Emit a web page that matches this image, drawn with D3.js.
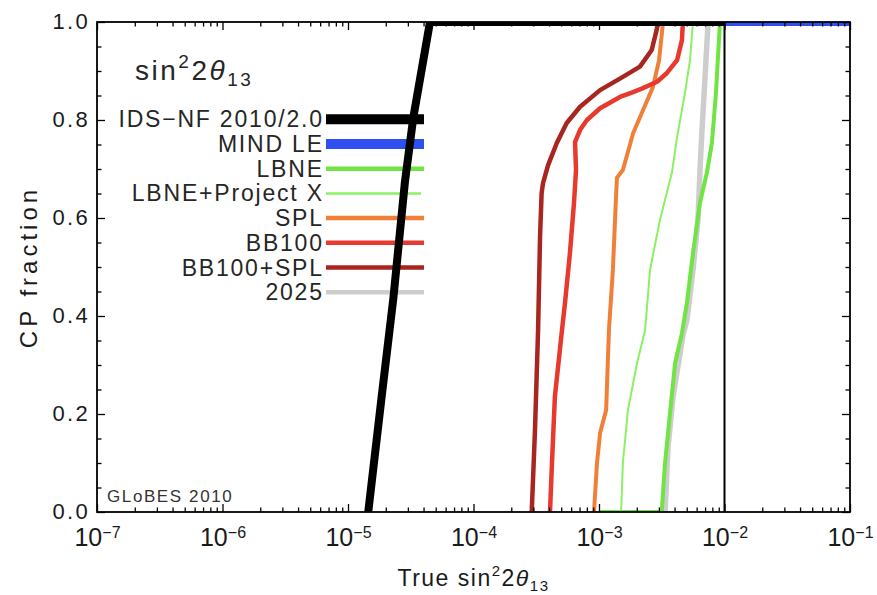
<!DOCTYPE html>
<html>
<head>
<meta charset="utf-8">
<script src="https://cdn.jsdelivr.net/npm/d3@7"></script>
<style>
  body { margin: 0; background: #fff; }
  svg { display: block; font-family: "Liberation Sans", Arial, Helvetica, sans-serif; }
</style>
</head>
<body>
<svg id="chart" width="877" height="595"></svg>
<script>
// CP fraction for which sin²2θ13 = 0 can be excluded, versus true sin²2θ13.
// Each series: [true sin²2θ13, CP fraction]
const seriesNames = ["IDS\u2212NF 2010/2.0", "MIND LE", "LBNE", "LBNE+Project X", "SPL", "BB100", "BB100+SPL", "2025"];

const idsNf = [[1.45e-5, 0], [1.85e-5, 0.233], [2.30e-5, 0.437], [2.84e-5, 0.673], [3.31e-5, 0.804], [4.50e-5, 1.0], [1e-2, 1.0]];
const mindLe = [[1e-2, 1.0], [1e-1, 1.0]];
const lbne = [[1e-3, 0], [3.16e-3, 0], [3.36e-3, 0.1], [3.68e-3, 0.202], [4.04e-3, 0.304], [4.58e-3, 0.365], [5.02e-3, 0.427],
  [5.61e-3, 0.529], [6.38e-3, 0.631], [7.26e-3, 0.694], [7.94e-3, 0.753], [8.55e-3, 0.855], [9.20e-3, 1.0]];
const lbneProjectX = [[1.50e-3, 0], [1.55e-3, 0.1], [1.70e-3, 0.208], [2.01e-3, 0.304], [2.33e-3, 0.371], [2.55e-3, 0.494],
  [3.06e-3, 0.596], [3.82e-3, 0.694], [4.19e-3, 0.765], [4.84e-3, 0.855], [5.31e-3, 0.922], [5.61e-3, 1.0]];
const spl = [[9.12e-4, 0], [9.64e-4, 0.1], [1.02e-3, 0.161], [1.14e-3, 0.208], [1.20e-3, 0.371], [1.29e-3, 0.494], [1.36e-3, 0.631],
  [1.39e-3, 0.682], [1.55e-3, 0.698], [1.87e-3, 0.773], [2.24e-3, 0.820], [2.69e-3, 0.867], [3.01e-3, 0.922], [3.24e-3, 1.0]];
const bb100 = [[4.07e-4, 0], [4.22e-4, 0.1], [4.45e-4, 0.235], [5.07e-4, 0.371], [5.36e-4, 0.427], [5.87e-4, 0.529], [6.32e-4, 0.631],
  [6.56e-4, 0.698], [6.44e-4, 0.755], [7.07e-4, 0.780], [8.02e-4, 0.8], [1.02e-3, 0.824], [1.47e-3, 0.847], [1.87e-3, 0.857],
  [2.24e-3, 0.865], [2.90e-3, 0.878], [3.48e-3, 0.896], [4.19e-3, 0.922], [4.58e-3, 0.963], [4.66e-3, 1.0]];
const bb100Spl = [[2.91e-4, 0], [3.09e-4, 0.167], [3.27e-4, 0.371], [3.39e-4, 0.561], [3.49e-4, 0.651], [3.58e-4, 0.671],
  [3.93e-4, 0.708], [4.61e-4, 0.753], [5.53e-4, 0.794], [7.07e-4, 0.827], [1.02e-3, 0.861], [1.55e-3, 0.888],
  [2.12e-3, 0.909], [2.63e-3, 0.943], [2.88e-3, 0.984], [2.95e-3, 1.0]];
const y2025 = [[3.36e-3, 0], [3.55e-3, 0.133], [3.89e-3, 0.235], [4.67e-3, 0.361], [5.02e-3, 0.392], [5.61e-3, 0.494],
  [6.15e-3, 0.596], [6.38e-3, 0.698], [6.62e-3, 0.780], [7.00e-3, 0.888], [7.40e-3, 1.0]];

const xTickExponents = [-7, -6, -5, -4, -3, -2, -1];
const yTickValues = [0, 0.2, 0.4, 0.6, 0.8, 1.0];
const yTickLabels = ["0.0", "0.2", "0.4", "0.6", "0.8", "1.0"];
const referenceLineX = 1e-2;

// ---- styling ----
const seriesData = {
  "IDS\u2212NF 2010/2.0": idsNf, "MIND LE": mindLe, "LBNE": lbne, "LBNE+Project X": lbneProjectX,
  "SPL": spl, "BB100": bb100, "BB100+SPL": bb100Spl, "2025": y2025
};
const style = {
  "IDS\u2212NF 2010/2.0": { color: "#000000", w: 8, lw: 10 },
  "MIND LE":              { color: "#2f50f0", w: 8, lw: 10 },
  "LBNE":                 { color: "#6fe443", w: 4, lw: 4.5 },
  "LBNE+Project X":       { color: "#8cf064", w: 2, lw: 2.5 },
  "SPL":                  { color: "#f08038", w: 4, lw: 4.5 },
  "BB100":                { color: "#e8392f", w: 4.5, lw: 4.5 },
  "BB100+SPL":            { color: "#a8261f", w: 4.5, lw: 4.5 },
  "2025":                 { color: "#cdcdcd", w: 5.5, lw: 4.5 }
};
const drawOrder = ["2025", "LBNE+Project X", "LBNE", "SPL", "BB100", "BB100+SPL", "IDS\u2212NF 2010/2.0", "MIND LE"];

const W = 877, H = 595;
const M = { top: 22, right: 27, bottom: 83, left: 97 };

const x = d3.scaleLog().domain([1e-7, 1e-1]).range([M.left, W - M.right]);
const y = d3.scaleLinear().domain([0, 1]).range([H - M.bottom, M.top]);

const svg = d3.select("#chart");
svg.append("rect").attr("width", W).attr("height", H).attr("fill", "#fff");

svg.append("defs").append("clipPath").attr("id", "plotClip")
  .append("rect")
  .attr("x", M.left).attr("y", M.top)
  .attr("width", W - M.left - M.right).attr("height", H - M.top - M.bottom);

// ---- legend (drawn beneath the curves) ----
const legSpacing = 1.8;
const legend = svg.append("g").attr("font-size", 23).attr("fill", "#262626");
const legTextX = 322, legLineX0 = 326, legLineX1 = 424, legY0 = 119.3, legStep = 24.7;
seriesNames.forEach((name, i) => {
  const yy = legY0 + i * legStep;
  legend.append("line")
    .attr("x1", legLineX0).attr("x2", name === "LBNE+Project X" ? legLineX1 - 3 : legLineX1)
    .attr("y1", yy).attr("y2", yy)
    .attr("stroke", style[name].color).attr("stroke-width", style[name].lw);
  legend.append("text")
    .attr("x", legTextX + legSpacing).attr("y", yy + 8)
    .attr("text-anchor", "end")
    .attr("letter-spacing", legSpacing)
    .text(name);
});

// ---- curves ----
const line = d3.line().x(d => x(d[0])).y(d => y(d[1]));
const plot = svg.append("g").attr("clip-path", "url(#plotClip)");
drawOrder.forEach(name => {
  plot.append("path")
    .datum(seriesData[name])
    .attr("d", line)
    .attr("fill", "none")
    .attr("stroke", style[name].color)
    .attr("stroke-width", style[name].w)
    .attr("stroke-linejoin", "round");
});

// vertical reference line
svg.append("line")
  .attr("x1", x(referenceLineX)).attr("x2", x(referenceLineX))
  .attr("y1", y(0)).attr("y2", y(1))
  .attr("stroke", "#000").attr("stroke-width", 2);

// ---- axes with inward ticks on all four sides ----
const xMajor = xTickExponents.map(e => Math.pow(10, e));
const xMinor = [];
xTickExponents.slice(0, -1).forEach(e => { for (let m = 2; m <= 9; m++) xMinor.push(m * Math.pow(10, e)); });
const yMinor = d3.range(0, 21).map(k => k * 0.05).filter(v => Math.abs(v * 5 - Math.round(v * 5)) > 1e-6);

function axisGroup(axis, tx, ty) {
  const g = svg.append("g").attr("transform", `translate(${tx},${ty})`).call(axis);
  g.select(".domain").remove();
  g.selectAll(".tick line").attr("stroke", "#000").attr("stroke-width", 1.3);
  g.attr("font-family", null).attr("font-size", null);
  return g;
}
const majLen = 8, minLen = 4.5;
// bottom
const gB = axisGroup(d3.axisBottom(x).tickValues(xMajor).tickSize(-majLen).tickSizeOuter(0).tickFormat(() => "10"), 0, y(0));
axisGroup(d3.axisBottom(x).tickValues(xMinor).tickSize(-minLen).tickSizeOuter(0).tickFormat(""), 0, y(0));
// top
axisGroup(d3.axisTop(x).tickValues(xMajor).tickSize(-majLen).tickSizeOuter(0).tickFormat(""), 0, y(1));
axisGroup(d3.axisTop(x).tickValues(xMinor).tickSize(-minLen).tickSizeOuter(0).tickFormat(""), 0, y(1));
// left
const gL = axisGroup(d3.axisLeft(y).tickValues(yTickValues).tickSize(-majLen).tickSizeOuter(0)
  .tickFormat((d, i) => yTickLabels[i]), x.range()[0], 0);
axisGroup(d3.axisLeft(y).tickValues(yMinor).tickSize(-minLen).tickSizeOuter(0).tickFormat(""), x.range()[0], 0);
// right
axisGroup(d3.axisRight(y).tickValues(yTickValues).tickSize(-majLen).tickSizeOuter(0).tickFormat(""), x.range()[1], 0);
axisGroup(d3.axisRight(y).tickValues(yMinor).tickSize(-minLen).tickSizeOuter(0).tickFormat(""), x.range()[1], 0);

// x tick labels: 10 with superscript exponent
gB.selectAll(".tick text").each(function (d, i) {
  const t = d3.select(this);
  t.text(null).attr("y", 34).attr("dy", null).attr("fill", "#1a1a1a").attr("font-size", 25).attr("text-anchor", "middle");
  t.append("tspan").text("10");
  t.append("tspan").attr("font-size", 16).attr("dy", -8).text("\u2212" + Math.abs(xTickExponents[i]));
});
// y tick labels
gL.selectAll(".tick text")
  .attr("x", -7).attr("dy", 6.5).attr("fill", "#1a1a1a").attr("font-size", 22).attr("letter-spacing", 2.3);

// frame
svg.append("rect")
  .attr("x", M.left).attr("y", M.top)
  .attr("width", W - M.left - M.right).attr("height", H - M.top - M.bottom)
  .attr("fill", "none").attr("stroke", "#000").attr("stroke-width", 1.8);

// ---- titles ----
const panel = svg.append("text").attr("x", 135).attr("y", 80)
  .attr("font-size", 28).attr("letter-spacing", 2.5).attr("fill", "#262626");
panel.append("tspan").text("sin");
panel.append("tspan").attr("font-size", 19).attr("dy", -12).text("2");
panel.append("tspan").attr("dy", 12).text("2");
panel.append("tspan").attr("font-style", "italic").text("\u03b8");
panel.append("tspan").attr("font-size", 19).attr("dy", 6).text("13");

const xt = svg.append("text")
  .attr("x", (M.left + W - M.right) / 2).attr("y", 586)
  .attr("text-anchor", "middle").attr("font-size", 23).attr("letter-spacing", 1.5).attr("fill", "#1a1a1a");
xt.append("tspan").text("True sin");
xt.append("tspan").attr("font-size", 15).attr("dy", -10).text("2");
xt.append("tspan").attr("dy", 10).text("2");
xt.append("tspan").attr("font-style", "italic").text("\u03b8");
xt.append("tspan").attr("font-size", 15).attr("dy", 5).text("13");

svg.append("text")
  .attr("transform", `translate(37,${(M.top + H - M.bottom) / 2}) rotate(-90)`)
  .attr("text-anchor", "middle").attr("font-size", 24).attr("letter-spacing", 4).attr("fill", "#1a1a1a")
  .text("CP fraction");

svg.append("text")
  .attr("x", 107).attr("y", 502)
  .attr("font-size", 17).attr("letter-spacing", 1.6).attr("fill", "#333")
  .text("GLoBES 2010");
</script>
</body>
</html>
